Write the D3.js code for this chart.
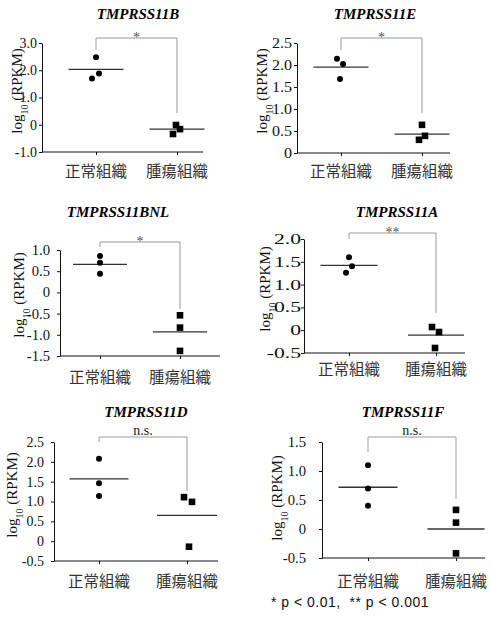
<!DOCTYPE html>
<html><head><meta charset="utf-8">
<script src="https://cdn.jsdelivr.net/npm/d3@7"></script>
<style>body{margin:0;background:#fff}svg{display:block}</style>
</head><body>
<script>
// ---- data ----
const genes = ["TMPRSS11B","TMPRSS11E","TMPRSS11BNL","TMPRSS11A","TMPRSS11D","TMPRSS11F"];
const categories = ["正常組織","腫瘍組織"];
const yTicks = [[3,2,1,0,-1],[2.5,2,1.5,1,0.5,0],[1,0.5,0,-0.5,-1,-1.5],[2,1.5,1,0.5,0,-0.5],[2.5,2,1.5,1,0.5,0,-0.5],[1.5,1,0.5,0,-0.5]];
const yTickLabels = [["3.0","2.0","1.0","0","-1.0"],["2.5","2.0","1.5","1.0","0.5","0"],["1.0","0.5","0","-0.5","-1.0","-1.5"],["2.0","1.5","1.0","0.5","0","-0.5"],["2.5","2.0","1.5","1.0","0.5","0","-0.5"],["1.5","1.0","0.5","0","-0.5"]];
const normalValues = [[2.48,1.70,1.88],[2.14,2.02,1.68],[0.86,0.70,0.44],[1.60,1.40,1.26],[2.08,1.46,1.14],[1.10,0.70,0.40]];
const tumorValues = [[-0.01,-0.16,-0.34],[0.64,0.39,0.30],[-0.54,-0.83,-1.38],[0.07,-0.04,-0.39],[1.11,0.99,-0.14],[0.33,0.11,-0.42]];
const normalMeans = [2.03,1.95,0.66,1.42,1.57,0.72];
const tumorMeans = [-0.16,0.43,-0.93,-0.11,0.65,0.0];
const sigLabels = ["*","*","*","**","n.s.","n.s."];
const footnote = "* p < 0.01,  ** p < 0.001";

// ---- layout (pixels) ----
const layout = [
 {axisX:42, top:43, bottom:152, xEnd:203, cx:[96,177], titleX:138, titleY:19, brY:38, brL:50, brR:113, labelX:22, labelY:91, catY:169.5, gap:5, stretch:1, half:[27.5,27.5]},
 {axisX:297, top:43, bottom:153, xEnd:450, cx:[341,422], titleX:375, titleY:19, brY:38, brL:50, brR:113, labelX:267, labelY:91, catY:169.5, gap:5, stretch:1.15, half:[27.5,27.5]},
 {axisX:60, top:250, bottom:356, xEnd:220, cx:[100,180], titleX:118, titleY:217, brY:242, brL:247, brR:309, labelX:24, labelY:295, catY:375.5, gap:10, stretch:1.05, half:[27,27]},
 {axisX:304, top:239, bottom:353, xEnd:465, cx:[349,436], titleX:397, titleY:217, brY:233, brL:239, brR:313, labelX:270, labelY:289, catY:367.5, gap:3, stretch:1.55, half:[28.5,28]},
 {axisX:54, top:442, bottom:561, xEnd:218, cx:[99,187], titleX:146, titleY:417, brY:437, brL:442, brR:491, labelX:17, labelY:495, catY:579.5, gap:10, stretch:1, half:[29.5,30]},
 {axisX:322, top:442, bottom:558, xEnd:485, cx:[368,456], titleX:403, titleY:417, brY:437, brL:452, brR:499, labelX:282, labelY:498, catY:580, gap:16, stretch:1.05, half:[29.5,28.5]}
];
const normalJitter = [[0,-4,3],[-4,2,-1],[0,0,0],[0,3,-3],[0,0,0],[0,0,0]];
const tumorJitter = [[-1,3,-4],[0,3,-3],[0,0,0],[-4,3,-1],[-3,5,2],[0,0,0]];

const serif = '"Liberation Serif", "Times New Roman", serif';
const svg = d3.select("body").append("svg").attr("width",491).attr("height",617);
svg.append("rect").attr("width",491).attr("height",617).attr("fill","#fff");

genes.forEach((g,i)=>{
  const L = layout[i];
  const ticks = yTicks[i];
  const y = d3.scaleLinear().domain([d3.min(ticks), d3.max(ticks)]).range([L.bottom, L.top]);
  const x = d3.scaleLinear().domain([0,1]).range(L.cx);
  const p = svg.append("g");

  // title
  p.append("text").attr("x",L.titleX).attr("y",L.titleY).attr("text-anchor","middle")
    .style("font-family",serif).style("font-size","15px").style("font-weight","bold").style("font-style","italic")
    .text(g);

  // y axis
  const ya = p.append("g").attr("transform",`translate(${L.axisX},0)`)
    .call(d3.axisLeft(y).tickValues(ticks).tickFormat((d,k)=>yTickLabels[i][k]).tickSize(3).tickSizeOuter(0).tickPadding(L.gap-3));
  ya.attr("font-family",null).attr("font-size",null);
  ya.select(".domain").attr("stroke","#111");
  ya.selectAll(".tick line").attr("stroke","#111");
  ya.selectAll(".tick text").style("font-family",serif).style("font-size","14px").attr("fill","#111")
    .attr("x",-L.gap/L.stretch).attr("transform",`scale(${L.stretch},1)`);

  // x axis
  p.append("line").attr("x1",L.axisX).attr("x2",L.xEnd).attr("y1",L.bottom).attr("y2",L.bottom).attr("stroke","#111");
  const xa = p.append("g").attr("transform",`translate(0,${L.bottom})`)
    .call(d3.axisBottom(x).tickValues([0,1]).tickFormat(()=>"").tickSize(3));
  xa.select(".domain").remove();
  xa.selectAll(".tick line").attr("stroke","#111");
  categories.forEach((c,k)=>{
    p.append("text").attr("x",x(k)).attr("y",L.catY).attr("text-anchor","middle").attr("dominant-baseline","central")
      .style("font-family",'"Noto Sans CJK JP", sans-serif').style("font-size","15.5px").attr("fill","#333").text(c);
  });

  // y label
  const yl = p.append("text").attr("transform",`translate(${L.labelX},${L.labelY}) rotate(-90)`)
    .attr("text-anchor","middle").style("font-family",serif).style("font-size","15px").attr("fill","#111");
  yl.append("tspan").text("log");
  yl.append("tspan").attr("baseline-shift","sub").style("font-size","10px").text("10");
  yl.append("tspan").text(" (RPKM)");

  // bracket
  p.append("path").attr("fill","none").attr("stroke","#999").attr("stroke-width",1)
    .attr("d",`M${x(0)},${L.brL}V${L.brY}H${x(1)}V${L.brR}`);
  const sig = sigLabels[i];
  p.append("text").attr("x",(x(0)+x(1))/2).attr("y", sig==="n.s." ? L.brY-2 : L.brY+4).attr("text-anchor","middle")
    .style("font-family",serif).style("font-size","14px").attr("fill", sig==="n.s."?"#222":"#555").text(sig);

  // means
  [normalMeans[i], tumorMeans[i]].forEach((m,k)=>{
    p.append("line").attr("x1",x(k)-L.half[k]).attr("x2",x(k)+L.half[k]).attr("y1",y(m)).attr("y2",y(m))
      .attr("stroke","#333").attr("stroke-width",1.3);
  });

  // points
  p.selectAll(".n").data(normalValues[i]).join("circle")
    .attr("cx",(d,k)=>x(0)+normalJitter[i][k]).attr("cy",d=>y(d)).attr("r",3).attr("fill","#000");
  p.selectAll(".t").data(tumorValues[i]).join("rect")
    .attr("x",(d,k)=>x(1)+tumorJitter[i][k]-3.3).attr("y",d=>y(d)-3.3).attr("width",6.6).attr("height",6.6).attr("fill","#000");
});

svg.append("text").attr("x",271).attr("y",607).style("font-family",'"Liberation Sans", Arial, sans-serif')
  .style("font-size","14px").style("letter-spacing","0.5px").attr("fill","#111").style("white-space","pre").text(footnote);
</script>
</body></html>
